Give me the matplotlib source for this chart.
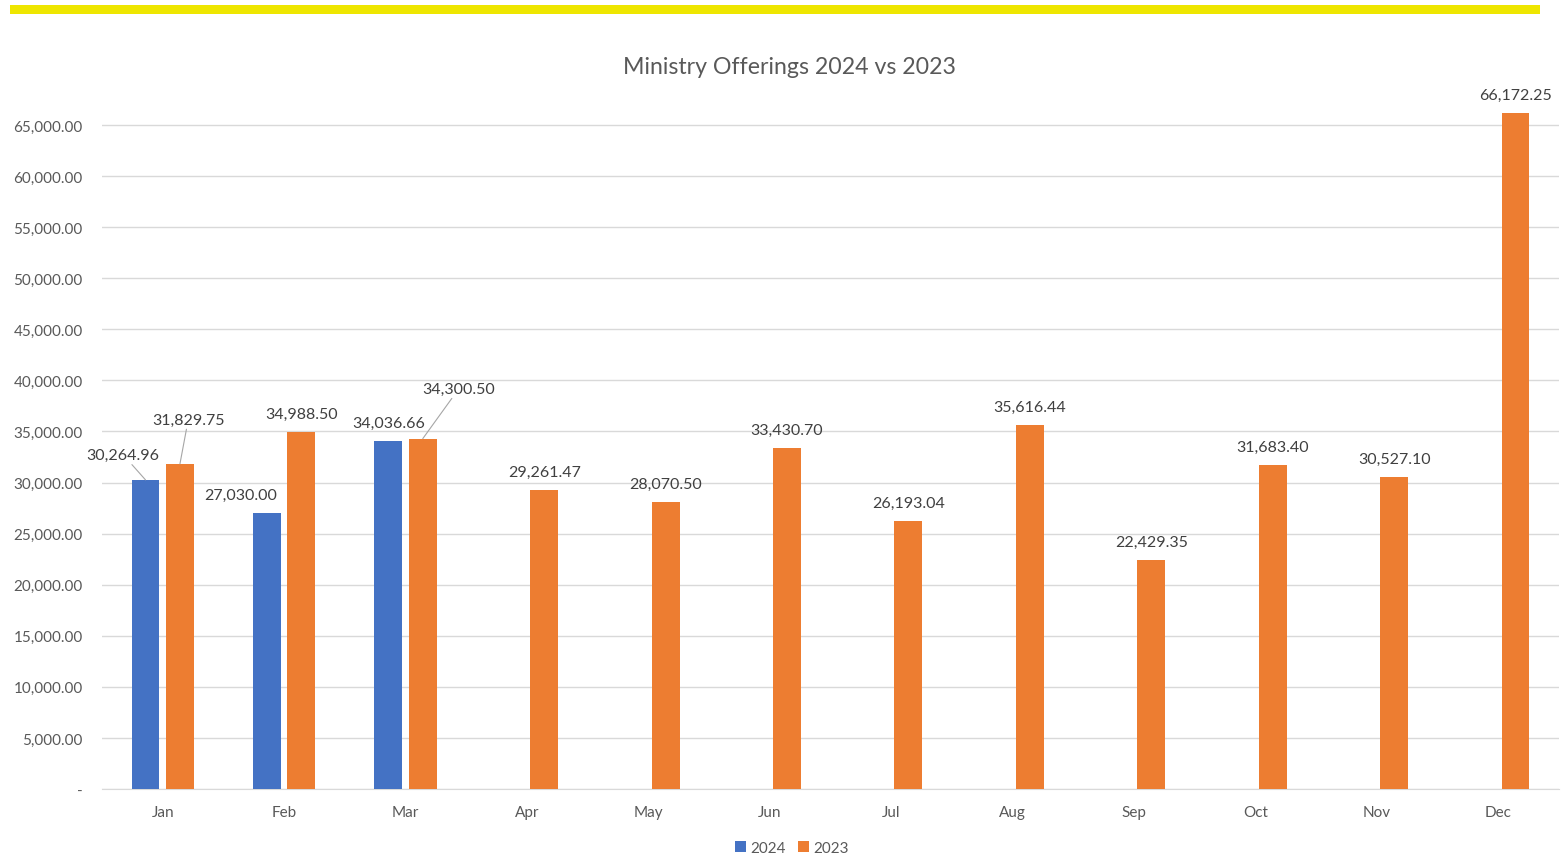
import matplotlib.pyplot as plt
import numpy as np
from matplotlib.patches import Rectangle
from matplotlib.ticker import FuncFormatter

plt.rcParams['font.family'] = ['Lato', 'DejaVu Sans']

# Months and offering totals
months = ["Jan", "Feb", "Mar", "Apr", "May", "Jun", "Jul", "Aug", "Sep", "Oct", "Nov", "Dec"]
offer_2024 = [30264.96, 27030.00, 34036.66]
offer_2023 = [31829.75, 34988.50, 34300.50, 29261.47, 28070.50, 33430.70,
              26193.04, 35616.44, 22429.35, 31683.40, 30527.10, 66172.25]
yticks = np.arange(0, 65001, 5000)

blue = '#4472C4'
orange = '#ED7D31'
txt = '#404040'
grey = '#595959'

fig = plt.figure(figsize=(15.62, 8.54), dpi=100)
ax = fig.add_axes([102/1562, 1 - 790/854, 1457/1562, (790 - 101)/854])

x = np.arange(len(months))
width = 0.23
off = 0.142

ax.bar(x[:len(offer_2024)] - off, offer_2024, width, color=blue, label='2024', zorder=3)
ax.bar(x + off, offer_2023, width, color=orange, label='2023', zorder=3)

# label offsets in points (dx, dy) and whether a leader line is drawn
special_24 = {0: (-16, 18, True), 1: (-19, 13, False)}
special_23 = {0: (6, 32, True), 2: (26, 36, True)}

def label(xpos, val, dx, dy, leader):
    kw = {}
    if leader:
        kw['arrowprops'] = dict(arrowstyle='-', color='#a6a6a6', lw=0.8,
                                shrinkA=0, shrinkB=0)
    ax.annotate(f"{val:,.2f}", (xpos, val), xytext=(dx, dy), textcoords='offset points',
                ha='center', va='center', fontsize=11.5, color=txt, zorder=4, **kw)

for i, v in enumerate(offer_2024):
    dx, dy, ld = special_24.get(i, (0, 13, False))
    label(x[i] - off, v, dx, dy, ld)
for i, v in enumerate(offer_2023):
    dx, dy, ld = special_23.get(i, (0, 13, False))
    label(x[i] + off, v, dx, dy, ld)

ax.set_xlim(-0.5, len(months) - 0.5)
ax.set_ylim(0, 67450)
ax.set_yticks(yticks)
ax.yaxis.set_major_formatter(FuncFormatter(lambda v, p: '-' if v == 0 else f"{v:,.2f}"))
ax.set_xticks(x)
ax.set_xticklabels(months)
ax.tick_params(axis='both', length=0, labelsize=11, labelcolor=grey)
ax.tick_params(axis='y', pad=14)
ax.tick_params(axis='x', pad=11.5)
ax.grid(axis='y', color='#d9d9d9', lw=1, zorder=0)
for s in ['top', 'right', 'left']:
    ax.spines[s].set_visible(False)
ax.spines['bottom'].set_color('#d9d9d9')

fig.text(789/1562, 1 - 67/854, 'Ministry Offerings 2024 vs 2023', ha='center', va='center',
         fontsize=16.7, color=grey)

# yellow banner at the top
fig.add_artist(Rectangle((10/1562, 1 - 15/854), 1530/1562, 9/854, transform=fig.transFigure,
                         color='#EEE600', lw=0))

fig.legend(loc='center', bbox_to_anchor=(792/1562, 1 - 849/854), ncol=2, frameon=False,
           fontsize=11, handlelength=0.7, handleheight=0.7, handletextpad=0.3,
           columnspacing=0.8, labelcolor=grey)

fig.savefig('out.png', dpi=100, facecolor='white')
